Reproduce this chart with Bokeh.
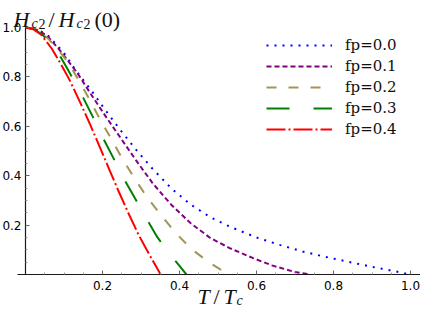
from bokeh.plotting import figure
from bokeh.models import FixedTicker, Label, Legend, LegendItem, Range1d
from bokeh.embed import file_html
from bokeh.resources import INLINE

# ---------------- data ----------------
fp_labels = ["fp=0.0", "fp=0.1", "fp=0.2", "fp=0.3", "fp=0.4"]

t_fp00 = [0, 0.02, 0.04, 0.06, 0.10, 0.13, 0.17, 0.21, 0.25, 0.29, 0.33, 0.38, 0.43,
          0.48, 0.53, 0.60, 0.66, 0.72, 0.78, 0.84, 0.90, 0.95, 1.00]
h_fp00 = [1.0, 0.996, 0.984, 0.965, 0.897, 0.828, 0.747, 0.660, 0.578, 0.500, 0.428, 0.347, 0.282,
          0.232, 0.194, 0.150, 0.120, 0.093, 0.071, 0.051, 0.031, 0.016, 0.0]

t_fp01 = [0, 0.02, 0.04, 0.06, 0.09, 0.135, 0.17, 0.21, 0.25, 0.29, 0.33, 0.38, 0.43,
          0.48, 0.53, 0.59, 0.64, 0.70, 0.74]
h_fp01 = [1.0, 0.996, 0.983, 0.960, 0.906, 0.815, 0.730, 0.636, 0.546, 0.456, 0.370, 0.280, 0.206,
          0.148, 0.107, 0.067, 0.037, 0.010, 0.0]

t_fp02 = [0, 0.02, 0.04, 0.06, 0.085, 0.11, 0.135, 0.165, 0.193, 0.222, 0.251, 0.282, 0.313,
          0.351, 0.388, 0.43, 0.478, 0.505, 0.53]
h_fp02 = [1.0, 0.996, 0.982, 0.953, 0.910, 0.860, 0.795, 0.712, 0.630, 0.551, 0.470, 0.392, 0.319,
          0.242, 0.172, 0.104, 0.048, 0.022, 0.0]

t_fp03 = [0, 0.02, 0.043, 0.07, 0.093, 0.11, 0.13, 0.15, 0.175, 0.201, 0.228, 0.255, 0.284,
          0.313, 0.342, 0.38, 0.40, 0.418]
h_fp03 = [1.0, 0.995, 0.972, 0.928, 0.876, 0.830, 0.773, 0.715, 0.638, 0.554, 0.472, 0.389, 0.310,
          0.229, 0.152, 0.072, 0.035, 0.0]

t_fp04 = [0, 0.02, 0.04, 0.068, 0.09, 0.114, 0.141, 0.168, 0.193, 0.218, 0.243, 0.268, 0.293,
          0.313, 0.33, 0.351]
h_fp04 = [1.0, 0.993, 0.972, 0.915, 0.857, 0.789, 0.700, 0.607, 0.516, 0.424, 0.333, 0.246, 0.163,
          0.105, 0.058, 0.0]

x_ticks = [0.2, 0.4, 0.6, 0.8, 1.0]
x_tick_labels = ["0.2", "0.4", "0.6", "0.8", "1.0"]
y_ticks = [0.2, 0.4, 0.6, 0.8, 1.0]
y_tick_labels = ["0.2", "0.4", "0.6", "0.8", "1.0"]
minor_ticks = [0.05, 0.1, 0.15, 0.25, 0.3, 0.35, 0.45, 0.5, 0.55, 0.65, 0.7, 0.75,
               0.85, 0.9, 0.95]

# ---------------- layout (frame covers the whole canvas) ----------------
W, H = 420, 310
ORIG_X, SCALE_X = 25, 385      # pixel of T=0, pixels per unit T
ORIG_Y, SCALE_Y = 274, 247     # pixel of H=0, pixels per unit H
X0, X1 = -ORIG_X / SCALE_X, (W - ORIG_X) / SCALE_X
Y0, Y1 = -(H - ORIG_Y) / SCALE_Y, ORIG_Y / SCALE_Y

p = figure(width=W, height=H, output_backend="svg", toolbar_location=None,
           x_range=Range1d(X0, X1), y_range=Range1d(Y0, Y1),
           min_border_left=0, min_border_right=0,
           min_border_top=0, min_border_bottom=0)
p.grid.visible = False
p.outline_line_color = None
p.background_fill_color = "white"
p.border_fill_color = "white"


def dx(px):
    return (px - ORIG_X) / SCALE_X


def dy(py):
    return (ORIG_Y - py) / SCALE_Y


# ---------------- curves ----------------
series = [
    (t_fp00, h_fp00, "#0000ff", "2 6"),
    (t_fp01, h_fp01, "#800080", "5 3"),
    (t_fp02, h_fp02, "#a39555", "10 12"),
    (t_fp03, h_fp03, "#008000", "23 24"),
    (t_fp04, h_fp04, "#ff0000", "19 3 2 3"),
]
items = []
for (t, h, col, dash), lab in zip(series, fp_labels):
    r = p.line(t, h, line_color=col, line_width=2, line_dash=dash)
    items.append(LegendItem(label=lab, renderers=[r]))

legend = Legend(items=items, location=(266, 171))
legend.label_text_font = "DejaVu Serif"
legend.label_text_font_size = "15px"
legend.label_text_color = "#111111"
legend.glyph_width = 66
legend.glyph_height = 20
legend.label_height = 20
legend.label_standoff = 13
legend.spacing = 1
legend.padding = 0
legend.margin = 0
legend.border_line_color = None
legend.background_fill_alpha = 0
p.add_layout(legend)

# ---------------- axes (crossing at the origin) ----------------
for ax in (p.xaxis, p.yaxis):
    ax.axis_line_color = "#1a1a1a"
    ax.axis_line_width = 1.2
    ax.major_tick_in = 4
    ax.major_tick_out = 0
    ax.minor_tick_in = 2
    ax.minor_tick_out = 0
    ax.major_tick_line_color = "#666666"
    ax.minor_tick_line_color = "#999999"
    ax.major_label_text_font = "DejaVu Sans"
    ax.major_label_text_font_size = "12px"
    ax.major_label_text_color = "#000000"

p.xaxis.ticker = FixedTicker(ticks=x_ticks, minor_ticks=minor_ticks)
p.xaxis.major_label_overrides = dict(zip(x_ticks, x_tick_labels))
p.xaxis.bounds = (-0.02, X1)
p.xaxis.fixed_location = 0
p.xaxis.major_label_standoff = 6

p.yaxis.ticker = FixedTicker(ticks=y_ticks, minor_ticks=minor_ticks)
p.yaxis.major_label_overrides = dict(zip(y_ticks, y_tick_labels))
p.yaxis.bounds = (0, 1.0)
p.yaxis.fixed_location = 0
p.yaxis.major_label_standoff = 4

# ---------------- axis titles (math-style pieces) ----------------
SERIF = "Liberation Serif"


def piece(text, px, py, size, style):
    p.add_layout(Label(x=dx(px), y=dy(py), text=text, text_font=SERIF,
                       text_font_size=size, text_font_style=style,
                       text_color="#111111", text_baseline="alphabetic",
                       text_align="left"))


# y title: H_c2 / H_c2(0)
piece("H", 13, 19, "22px", "italic")
piece("c", 31, 23, "14px", "italic")
piece("2", 38, 23, "14px", "normal")
piece("/", 48, 19, "22px", "normal")
piece("H", 58, 19, "22px", "italic")
piece("c", 76, 23, "14px", "italic")
piece("2", 83, 23, "14px", "normal")
piece("(0)", 94, 19, "22px", "normal")

# x title: T / T_c
piece("T", 197, 296, "22px", "italic")
piece("/", 213, 296, "22px", "normal")
piece("T", 223, 296, "22px", "italic")
piece("c", 236, 300, "14px", "italic")

open("out.html", "w").write(file_html(p, INLINE))
